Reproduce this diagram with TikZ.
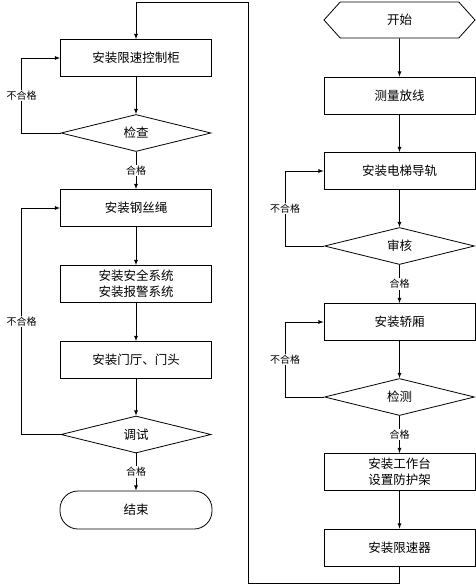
\documentclass[tikz,border=0pt]{standalone}
\usepackage{fontspec}
\setmainfont{Noto Sans CJK SC}
\usetikzlibrary{shapes.geometric,shapes.symbols}

\tikzset{
  proc/.style={draw,line width=0.8pt,minimum width=151pt,minimum height=37pt,
    inner sep=2pt,align=center,font=\fontsize{12.5}{16}\selectfont},
  check/.style={draw,diamond,aspect=4,inner sep=0pt,line width=0.8pt,
    minimum width=150pt,minimum height=37pt,font=\fontsize{12.5}{16}\selectfont},
  term/.style={draw,line width=0.8pt,rounded corners=18pt,minimum width=152pt,
    minimum height=38pt,font=\fontsize{12.5}{16}\selectfont},
  begin/.style={draw,signal,signal to=east and west,signal pointer angle=96,
    line width=0.8pt,minimum width=151pt,minimum height=36pt,
    font=\fontsize{12.5}{16}\selectfont},
  lbl/.style={fill=white,inner sep=1pt,font=\fontsize{10}{12}\selectfont},
  flow/.style={line width=0.8pt,-latex}
}

\begin{document}
\begin{tikzpicture}[x=1pt,y=-1pt]
  \useasboundingbox[fill=white] (0,0) rectangle (476,587);

  % right column
  \begin{scope}[xshift=399.5pt]
    \node[begin] (start) at (0,20) {开始};
    \node[proc] (survey) at (0,95.5) {测量放线};
    \node[proc] (rail) at (0,171) {安装电梯导轨};
    \node[check] (audit) at (0,246) {审核};
    \node[proc] (car) at (0,322) {安装轿厢};
    \node[check] (test) at (0,397) {检测};
    \node[proc] (deck) at (0,472) {安装工作台\\设置防护架};
    \node[proc] (gov) at (0,547.5) {安装限速器};
  \end{scope}

  % left column
  \begin{scope}[xshift=136pt]
    \node[proc] (cab) at (0,58) {安装限速控制柜};
    \node[check] (insp) at (0,133) {检查};
    \node[proc] (rope) at (0,208) {安装钢丝绳};
    \node[proc] (safe) at (0,284) {安装安全系统\\安装报警系统};
    \node[proc] (door) at (0,360) {安装门厅、门头};
    \node[check] (tune) at (0,434.5) {调试};
    \node[term] (finish) at (0,510) {结束};
  \end{scope}

  \coordinate (turn) at (248,2);

  \draw[flow] (start) -- (survey);
  \draw[flow] (survey) -- (rail);
  \draw[flow] (rail) -- (audit);
  \draw[flow] (audit) -- node[lbl] {合格} (car);
  \draw[flow] (car) -- (test);
  \draw[flow] (test) -- node[lbl] {合格} (deck);
  \draw[flow] (deck) -- (gov);
  \draw[flow] (audit.west) -- ++(-39,0) |- node[lbl,pos=0.25] {不合格} (rail.west);
  \draw[flow] (test.west) -- ++(-39,0) |- node[lbl,pos=0.25] {不合格} (car.west);

  \draw[flow] (gov.south) -- ++(0,17) -| (turn) -| (cab.north);

  \draw[flow] (cab) -- (insp);
  \draw[flow] (insp) -- node[lbl] {合格} (rope);
  \draw[flow] (rope) -- (safe);
  \draw[flow] (safe) -- (door);
  \draw[flow] (door) -- (tune);
  \draw[flow] (tune) -- node[lbl] {合格} (finish);
  \draw[flow] (insp.west) -- ++(-39,0) |- node[lbl,pos=0.25] {不合格} (cab.west);
  \draw[flow] (tune.west) -- ++(-39,0) |- node[lbl,pos=0.25] {不合格} (rope.west);
\end{tikzpicture}
\end{document}
